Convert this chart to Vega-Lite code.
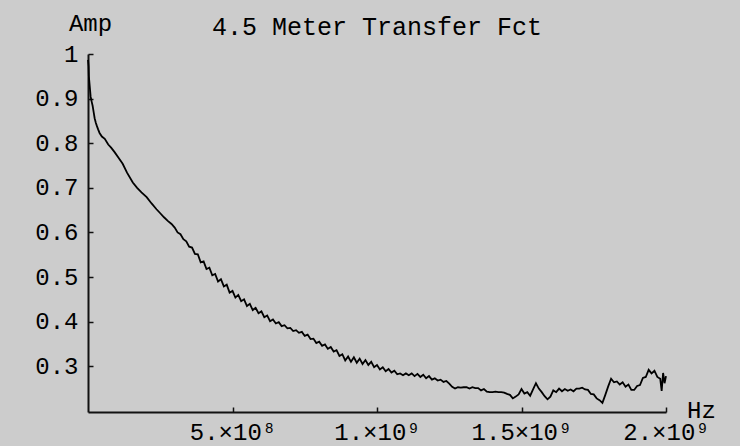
{
  "$schema": "https://vega.github.io/schema/vega-lite/v6.json",
  "width": 578,
  "height": 358,
  "autosize": "none",
  "padding": {"left": 88, "top": 54, "right": 74, "bottom": 34},
  "background": "#cccccc",
  "title": {"text": "4.5 Meter Transfer Fct", "font": "Liberation Mono", "fontSize": 25, "fontWeight": "normal", "color": "#000000", "anchor": "middle", "frame": "group", "baseline": "alphabetic", "offset": -49},
  "config": {"view": {"stroke": null}, "font": "Liberation Mono"},
  "data": {"values": [
    {"f": 0, "amp": 0.987}, {"f": 2e6, "amp": 0.972}, {"f": 3e6, "amp": 0.95}, {"f": 5e6, "amp": 0.935},
    {"f": 7e6, "amp": 0.92}, {"f": 9e6, "amp": 0.905}, {"f": 1.2e7, "amp": 0.895}, {"f": 1.6e7, "amp": 0.884},
    {"f": 2e7, "amp": 0.868}, {"f": 2.3e7, "amp": 0.856}, {"f": 2.7e7, "amp": 0.846}, {"f": 3e7, "amp": 0.84},
    {"f": 3.5e7, "amp": 0.831}, {"f": 4e7, "amp": 0.823}, {"f": 4.8e7, "amp": 0.815}, {"f": 5.8e7, "amp": 0.81},
    {"f": 7e7, "amp": 0.797}, {"f": 8e7, "amp": 0.79}, {"f": 9.2e7, "amp": 0.78}, {"f": 1.05e8, "amp": 0.768},
    {"f": 1.2e8, "amp": 0.754}, {"f": 1.35e8, "amp": 0.734}, {"f": 1.55e8, "amp": 0.712}, {"f": 1.7e8, "amp": 0.7},
    {"f": 1.85e8, "amp": 0.69}, {"f": 2.03e8, "amp": 0.679}, {"f": 2.2e8, "amp": 0.665}, {"f": 2.37e8, "amp": 0.652},
    {"f": 2.5e8, "amp": 0.643}, {"f": 2.63e8, "amp": 0.634}, {"f": 2.76e8, "amp": 0.626}, {"f": 2.89e8, "amp": 0.619},
    {"f": 3e8, "amp": 0.611}, {"f": 3.1e8, "amp": 0.6}, {"f": 3.2e8, "amp": 0.596}, {"f": 3.3e8, "amp": 0.585},
    {"f": 3.4e8, "amp": 0.58}, {"f": 3.5e8, "amp": 0.568}, {"f": 3.6e8, "amp": 0.566}, {"f": 3.7e8, "amp": 0.552},
    {"f": 3.8e8, "amp": 0.551}, {"f": 3.9e8, "amp": 0.533}, {"f": 4e8, "amp": 0.535}, {"f": 4.1e8, "amp": 0.518},
    {"f": 4.2e8, "amp": 0.521}, {"f": 4.3e8, "amp": 0.504}, {"f": 4.4e8, "amp": 0.507}, {"f": 4.5e8, "amp": 0.49},
    {"f": 4.6e8, "amp": 0.495}, {"f": 4.7e8, "amp": 0.479}, {"f": 4.8e8, "amp": 0.483}, {"f": 4.9e8, "amp": 0.465},
    {"f": 5e8, "amp": 0.469}, {"f": 5.1e8, "amp": 0.454}, {"f": 5.2e8, "amp": 0.46}, {"f": 5.3e8, "amp": 0.446},
    {"f": 5.4e8, "amp": 0.45}, {"f": 5.5e8, "amp": 0.435}, {"f": 5.6e8, "amp": 0.44}, {"f": 5.7e8, "amp": 0.426},
    {"f": 5.8e8, "amp": 0.431}, {"f": 5.9e8, "amp": 0.419}, {"f": 6e8, "amp": 0.423}, {"f": 6.1e8, "amp": 0.41},
    {"f": 6.2e8, "amp": 0.414}, {"f": 6.3e8, "amp": 0.401}, {"f": 6.4e8, "amp": 0.405}, {"f": 6.5e8, "amp": 0.396},
    {"f": 6.6e8, "amp": 0.399}, {"f": 6.7e8, "amp": 0.39}, {"f": 6.8e8, "amp": 0.392}, {"f": 6.9e8, "amp": 0.385},
    {"f": 7e8, "amp": 0.386}, {"f": 7.1e8, "amp": 0.379}, {"f": 7.2e8, "amp": 0.381}, {"f": 7.3e8, "amp": 0.375},
    {"f": 7.4e8, "amp": 0.377}, {"f": 7.5e8, "amp": 0.368}, {"f": 7.6e8, "amp": 0.371}, {"f": 7.7e8, "amp": 0.361},
    {"f": 7.8e8, "amp": 0.362}, {"f": 7.9e8, "amp": 0.352}, {"f": 8e8, "amp": 0.355}, {"f": 8.1e8, "amp": 0.346},
    {"f": 8.2e8, "amp": 0.349}, {"f": 8.3e8, "amp": 0.339}, {"f": 8.4e8, "amp": 0.343}, {"f": 8.5e8, "amp": 0.333},
    {"f": 8.6e8, "amp": 0.336}, {"f": 8.7e8, "amp": 0.323}, {"f": 8.8e8, "amp": 0.327}, {"f": 8.9e8, "amp": 0.313},
    {"f": 9e8, "amp": 0.322}, {"f": 9.1e8, "amp": 0.31}, {"f": 9.2e8, "amp": 0.32}, {"f": 9.3e8, "amp": 0.308},
    {"f": 9.4e8, "amp": 0.317}, {"f": 9.5e8, "amp": 0.305}, {"f": 9.6e8, "amp": 0.314}, {"f": 9.7e8, "amp": 0.303},
    {"f": 9.8e8, "amp": 0.31}, {"f": 9.9e8, "amp": 0.298}, {"f": 1e9, "amp": 0.303}, {"f": 1.01e9, "amp": 0.293},
    {"f": 1.02e9, "amp": 0.298}, {"f": 1.03e9, "amp": 0.289}, {"f": 1.04e9, "amp": 0.294}, {"f": 1.05e9, "amp": 0.286},
    {"f": 1.06e9, "amp": 0.29}, {"f": 1.07e9, "amp": 0.282}, {"f": 1.08e9, "amp": 0.284}, {"f": 1.09e9, "amp": 0.28},
    {"f": 1.1e9, "amp": 0.284}, {"f": 1.11e9, "amp": 0.28}, {"f": 1.12e9, "amp": 0.284}, {"f": 1.13e9, "amp": 0.278},
    {"f": 1.14e9, "amp": 0.283}, {"f": 1.15e9, "amp": 0.276}, {"f": 1.16e9, "amp": 0.281}, {"f": 1.17e9, "amp": 0.273},
    {"f": 1.18e9, "amp": 0.278}, {"f": 1.19e9, "amp": 0.27}, {"f": 1.2e9, "amp": 0.273}, {"f": 1.21e9, "amp": 0.268},
    {"f": 1.22e9, "amp": 0.27}, {"f": 1.23e9, "amp": 0.265}, {"f": 1.24e9, "amp": 0.267}, {"f": 1.25e9, "amp": 0.261},
    {"f": 1.26e9, "amp": 0.254}, {"f": 1.27e9, "amp": 0.25}, {"f": 1.28e9, "amp": 0.253}, {"f": 1.29e9, "amp": 0.252},
    {"f": 1.3e9, "amp": 0.253}, {"f": 1.31e9, "amp": 0.253}, {"f": 1.32e9, "amp": 0.25}, {"f": 1.33e9, "amp": 0.253},
    {"f": 1.34e9, "amp": 0.251}, {"f": 1.35e9, "amp": 0.251}, {"f": 1.36e9, "amp": 0.246}, {"f": 1.37e9, "amp": 0.249},
    {"f": 1.38e9, "amp": 0.243}, {"f": 1.39e9, "amp": 0.242}, {"f": 1.4e9, "amp": 0.242}, {"f": 1.41e9, "amp": 0.243},
    {"f": 1.42e9, "amp": 0.242}, {"f": 1.43e9, "amp": 0.242}, {"f": 1.44e9, "amp": 0.241}, {"f": 1.45e9, "amp": 0.238},
    {"f": 1.46e9, "amp": 0.236}, {"f": 1.47e9, "amp": 0.228}, {"f": 1.48e9, "amp": 0.232}, {"f": 1.49e9, "amp": 0.237},
    {"f": 1.5e9, "amp": 0.249}, {"f": 1.51e9, "amp": 0.239}, {"f": 1.52e9, "amp": 0.242}, {"f": 1.53e9, "amp": 0.234},
    {"f": 1.54e9, "amp": 0.248}, {"f": 1.55e9, "amp": 0.262}, {"f": 1.56e9, "amp": 0.25}, {"f": 1.57e9, "amp": 0.242},
    {"f": 1.58e9, "amp": 0.233}, {"f": 1.59e9, "amp": 0.226}, {"f": 1.6e9, "amp": 0.232}, {"f": 1.61e9, "amp": 0.246},
    {"f": 1.62e9, "amp": 0.242}, {"f": 1.63e9, "amp": 0.25}, {"f": 1.64e9, "amp": 0.244}, {"f": 1.65e9, "amp": 0.249},
    {"f": 1.66e9, "amp": 0.245}, {"f": 1.67e9, "amp": 0.248}, {"f": 1.68e9, "amp": 0.244}, {"f": 1.69e9, "amp": 0.25},
    {"f": 1.7e9, "amp": 0.25}, {"f": 1.71e9, "amp": 0.252}, {"f": 1.72e9, "amp": 0.248}, {"f": 1.73e9, "amp": 0.247},
    {"f": 1.74e9, "amp": 0.238}, {"f": 1.75e9, "amp": 0.237}, {"f": 1.76e9, "amp": 0.228}, {"f": 1.77e9, "amp": 0.224},
    {"f": 1.78e9, "amp": 0.218}, {"f": 1.79e9, "amp": 0.236}, {"f": 1.8e9, "amp": 0.255}, {"f": 1.81e9, "amp": 0.272},
    {"f": 1.82e9, "amp": 0.264}, {"f": 1.83e9, "amp": 0.266}, {"f": 1.84e9, "amp": 0.259}, {"f": 1.85e9, "amp": 0.264},
    {"f": 1.86e9, "amp": 0.254}, {"f": 1.87e9, "amp": 0.259}, {"f": 1.88e9, "amp": 0.247}, {"f": 1.89e9, "amp": 0.247},
    {"f": 1.9e9, "amp": 0.256}, {"f": 1.91e9, "amp": 0.258}, {"f": 1.92e9, "amp": 0.274}, {"f": 1.93e9, "amp": 0.276},
    {"f": 1.94e9, "amp": 0.292}, {"f": 1.95e9, "amp": 0.284}, {"f": 1.96e9, "amp": 0.29}, {"f": 1.97e9, "amp": 0.276},
    {"f": 1.98e9, "amp": 0.272}, {"f": 1.985e9, "amp": 0.245}, {"f": 1.99e9, "amp": 0.285}, {"f": 1.995e9, "amp": 0.262},
    {"f": 2e9, "amp": 0.278}
  ]},
  "mark": {"type": "line", "color": "#000000", "strokeWidth": 1.8, "clip": false},
  "encoding": {
    "x": {
      "field": "f", "type": "quantitative",
      "scale": {"domain": [0, 2000000000], "nice": false, "zero": false},
      "axis": {
        "values": [500000000, 1000000000, 1500000000, 2000000000],
        "labelExpr": "datum.value == 500000000 ? '5.×10⁸' : datum.value == 1000000000 ? '1.×10⁹' : datum.value == 1500000000 ? '1.5×10⁹' : '2.×10⁹'",
        "grid": false,
        "domainColor": "#111111", "domainWidth": 2,
        "tickColor": "#111111", "tickWidth": 1.5, "tickSize": -5,
        "labelFont": "Liberation Mono", "labelFontSize": 24, "labelColor": "#000000",
        "labelPadding": 13, "labelFlush": false, "labelOverlap": false, "labelBaseline": "top",
        "title": "Hz", "titleFont": "Liberation Mono", "titleFontSize": 24, "titleFontWeight": "normal",
        "titleColor": "#000000", "titleX": 613, "titleY": 5, "titleAlign": "center", "titleBaseline": "alphabetic"
      }
    },
    "y": {
      "field": "amp", "type": "quantitative",
      "scale": {"domain": [0.1975, 1], "nice": false, "zero": false},
      "axis": {
        "values": [0.3, 0.4, 0.5, 0.6, 0.7, 0.8, 0.9, 1],
        "labelExpr": "datum.value == 1 ? '1' : format(datum.value, '.1f')",
        "grid": false,
        "domainColor": "#111111", "domainWidth": 2,
        "tickColor": "#111111", "tickWidth": 1.5, "tickSize": -5,
        "labelFont": "Liberation Mono", "labelFontSize": 24, "labelColor": "#000000",
        "labelPadding": 15, "labelFlush": false, "labelOverlap": false,
        "title": "Amp", "titleFont": "Liberation Mono", "titleFontSize": 24, "titleFontWeight": "normal",
        "titleColor": "#000000", "titleAngle": 0, "titleX": 2, "titleY": -24, "titleAlign": "center", "titleBaseline": "alphabetic"
      }
    }
  }
}
